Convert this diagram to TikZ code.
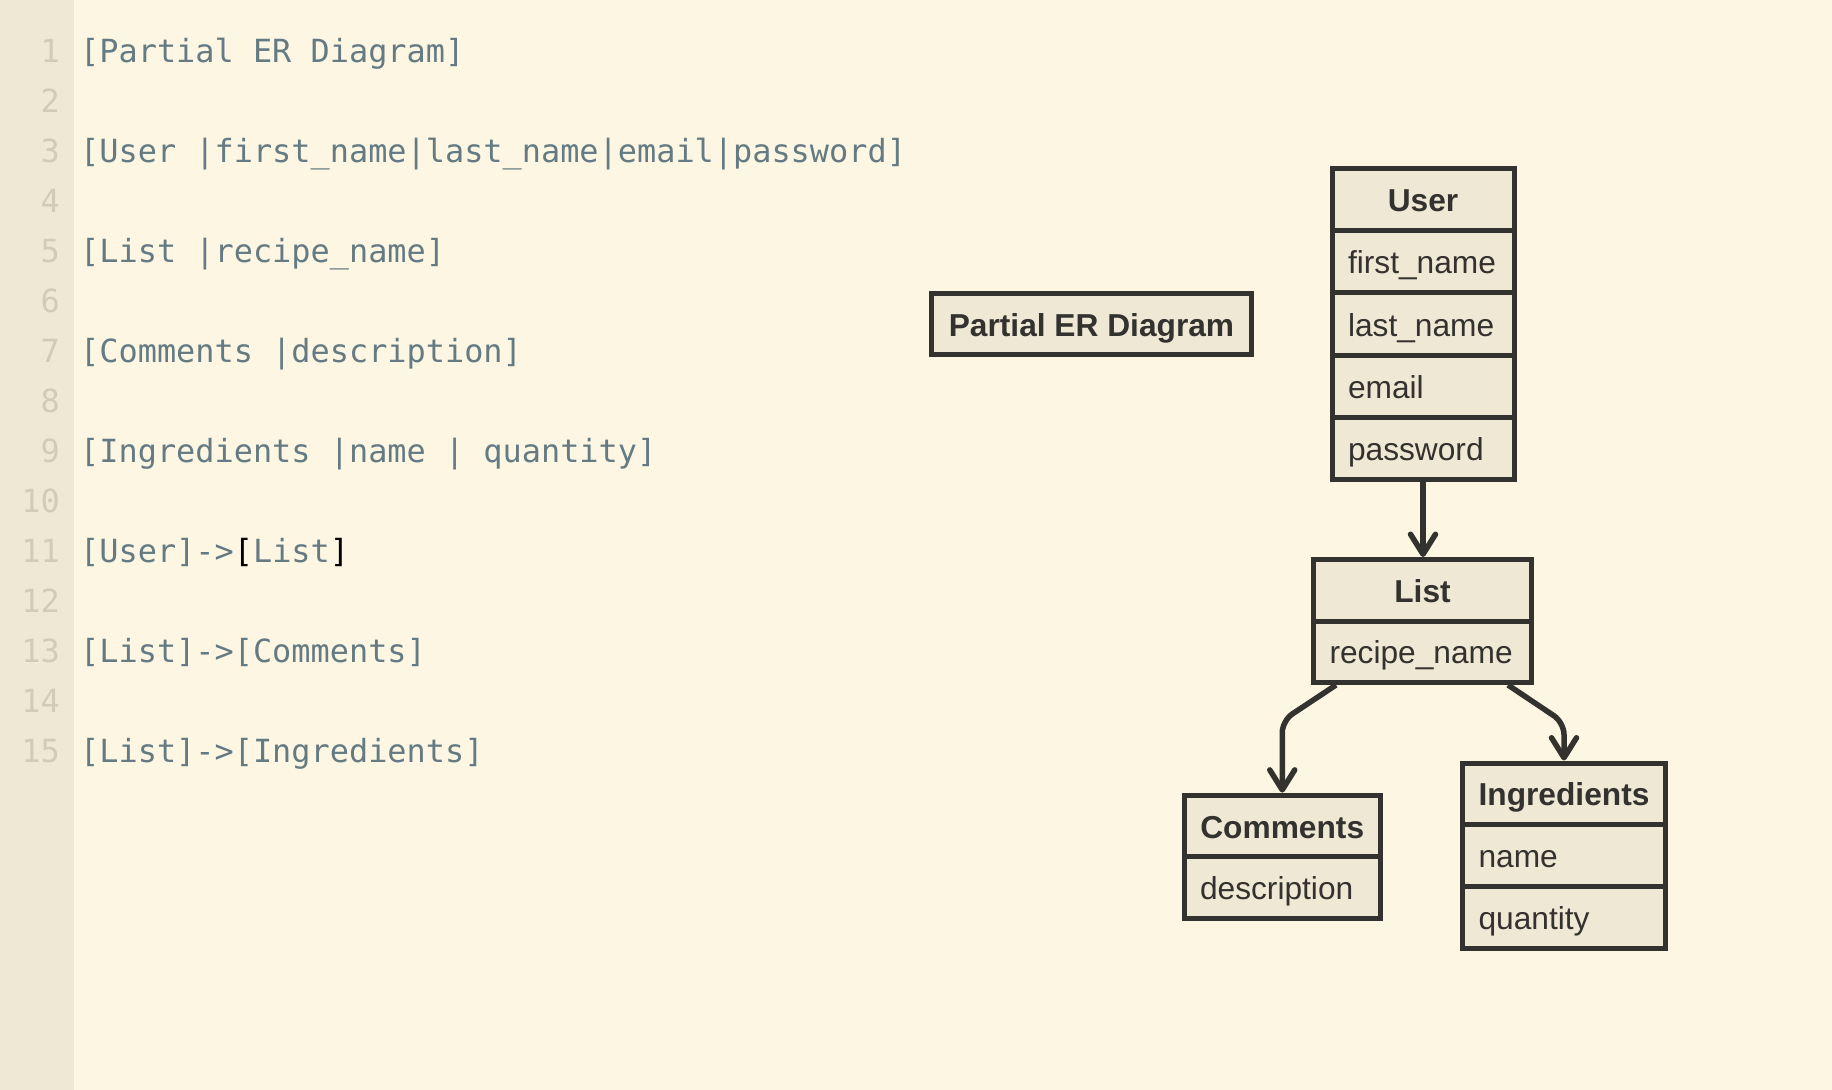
\documentclass[tikz,border=0pt]{standalone}
\usepackage{fontspec}
\usetikzlibrary{arrows.meta}
\newfontfamily\boxfont{Liberation Sans}
\newfontfamily\codefont{DejaVu Sans Mono}
\definecolor{bgc}{HTML}{FDF6E3}
\definecolor{gutc}{HTML}{EEE8D5}
\definecolor{codec}{HTML}{657B83}
\definecolor{lnumc}{HTML}{D3CBB7}
\definecolor{strokec}{HTML}{33322E}
\definecolor{fillc}{HTML}{EEE8D5}
\tikzset{
  codeline/.style={anchor=base west, inner sep=0pt, text=codec, font=\codefont\fontsize{31.9}{38}\selectfont},
  lnum/.style={anchor=base east, inner sep=0pt, text=lnumc, font=\codefont\fontsize{31.9}{38}\selectfont},
  rowbox/.style={draw=strokec, fill=fillc, line width=5pt, inner ysep=0pt, text height=28pt, text depth=4pt, text=strokec, font=\boxfont\fontsize{31.7}{38}\selectfont},
  headbox/.style 2 args={rowbox, inner xsep=0pt, minimum width=#1, minimum height=#2, font=\boxfont\bfseries\fontsize{31.7}{38}\selectfont},
  attrbox/.style 2 args={rowbox, inner xsep=16pt, text width=#1-32pt, align=left, minimum height=#2},
  conn/.style={draw=strokec, line width=5.5pt, rounded corners=12pt, -{Straight Barb[length=20pt,width=25pt,round]}}
}
\begin{document}
\begin{tikzpicture}[x=1pt,y=-1pt]
\useasboundingbox (0,0) rectangle (1832,1090);
\fill[bgc] (0,0) rectangle (1832,1090);
\fill[gutc] (0,0) rectangle (73.5,1090);
% line numbers
\foreach \n in {1,...,15} \node[lnum] (ln\n) at (60,{62+(\n-1)*50}) {\n};
% code
\node[codeline] (c1) at (80,62) {[Partial ER Diagram]};
\node[codeline] (c3) at (80,162) {[User |first\_name|last\_name|email|password]};
\node[codeline] (c5) at (80,262) {[List |recipe\_name]};
\node[codeline] (c7) at (80,362) {[Comments |description]};
\node[codeline] (c9) at (80,462) {[Ingredients |name | quantity]};
\node[codeline] (c11) at (80,562) {[User]->\textcolor{black}{[}List\textcolor{black}{]}};
\node[codeline] (c13) at (80,662) {[List]->[Comments]};
\node[codeline] (c15) at (80,762) {[List]->[Ingredients]};
% Partial ER Diagram
\node[headbox={320pt}{61pt}] (title) at (1091.5,324) {Partial ER Diagram};
% User
\node[headbox={182pt}{62.2pt}] (userH) at (1423,199.6) {User};
\node[attrbox={182pt}{62.2pt}] (userA) at (1423,261.8) {first\_name};
\node[attrbox={182pt}{62.2pt}] (userB) at (1423,324) {last\_name};
\node[attrbox={182pt}{62.2pt}] (userC) at (1423,386.2) {email};
\node[attrbox={182pt}{62.2pt}] (userD) at (1423,448.4) {password};
% List
\node[headbox={218pt}{61.5pt}] (listH) at (1422.5,590.25) {List};
\node[attrbox={218pt}{61.5pt}] (listA) at (1422.5,651.75) {recipe\_name};
% Comments
\node[headbox={196.5pt}{61.75pt}] (comH) at (1282.25,826) {Comments};
\node[attrbox={196.5pt}{61.75pt}] (comA) at (1282.25,887.75) {description};
% Ingredients
\node[headbox={203pt}{61.5pt}] (ingH) at (1564,793.75) {Ingredients};
\node[attrbox={203pt}{62pt}] (ingA) at (1564,855.5) {name};
\node[attrbox={203pt}{62pt}] (ingB) at (1564,917.5) {quantity};
% connectors
\draw[conn] (userD.south) -- (userD.south |- listH.north);
\draw[conn] ([xshift=-86.5pt]listA.south) -- ([yshift=72pt]comH.north) -- (comH.north);
\draw[conn] ([xshift=85.5pt]listA.south) -- ([yshift=38pt]ingH.north) -- (ingH.north);
\end{tikzpicture}
\end{document}
